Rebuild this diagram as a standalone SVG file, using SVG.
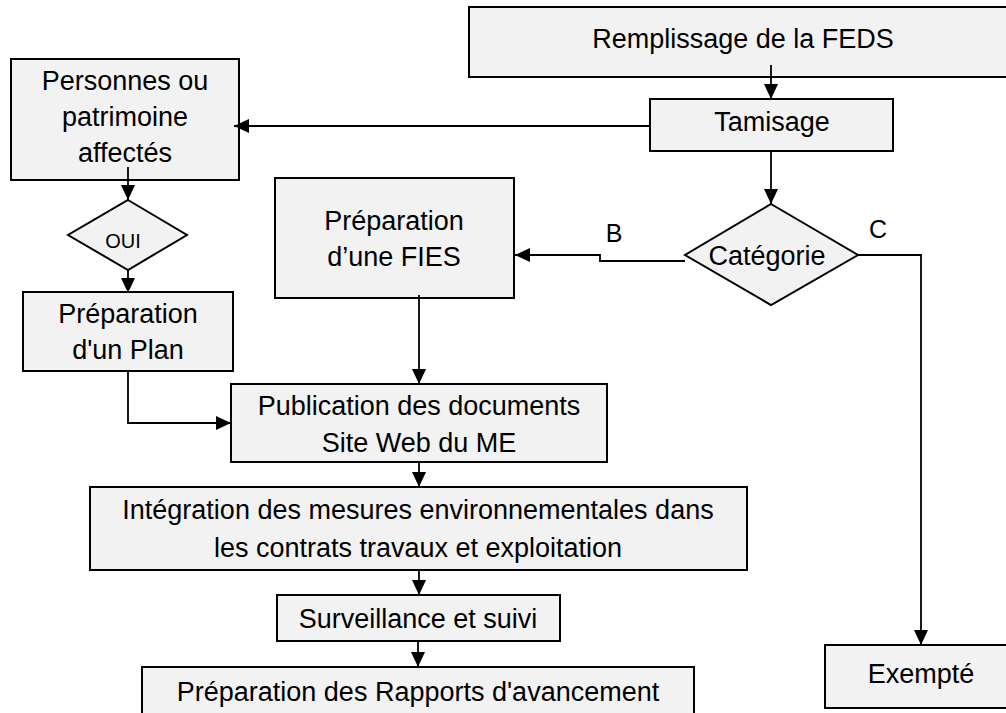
<svg xmlns="http://www.w3.org/2000/svg" width="1006" height="713" viewBox="0 0 1006 713">
<style>
.box{fill:#f2f2f2;stroke:#000;stroke-width:2}
.t{font-family:"Liberation Sans",Arial,sans-serif;font-size:27px;fill:#000;text-anchor:middle}
.s{font-size:20px}
.lbl{font-family:"Liberation Sans",Arial,sans-serif;font-size:25px;fill:#000;text-anchor:middle}
.c{fill:none;stroke:#000;stroke-width:1.8}
</style>
<defs>
<marker id="ah" viewBox="0 0 15 14" refX="15" refY="7" markerWidth="15" markerHeight="14" markerUnits="userSpaceOnUse" orient="auto">
<path d="M0,0 L15,7 L0,14 z" fill="#000"/>
</marker>
</defs>
<rect width="1006" height="713" fill="#fff"/>
<g id="remplissage"><rect class="box" x="469" y="7" width="560" height="70"/><text class="t" x="743" y="48">Remplissage de la FEDS</text></g>
<g id="tamisage"><rect class="box" x="650" y="99" width="243" height="52"/><text class="t" x="772" y="131">Tamisage</text></g>
<g id="personnes"><rect class="box" x="11" y="59" width="228" height="121"/><text class="t" x="125" y="90">Personnes ou</text><text class="t" x="125" y="126">patrimoine</text><text class="t" x="125" y="162">affectés</text></g>
<g id="oui"><polygon class="box" points="128,200 187,235 128,270 68,235"/><text class="t s" x="123" y="248">OUI</text></g>
<g id="fies"><rect class="box" x="275" y="178" width="239" height="120"/><text class="t" x="394" y="230">Préparation</text><text class="t" x="394" y="266">d’une FIES</text></g>
<g id="categorie"><polygon class="box" points="771,204 858,255 771,305 685,255"/><text class="t" x="767" y="265">Catégorie</text></g>
<g id="plan"><rect class="box" x="23" y="292" width="210" height="79"/><text class="t" x="128" y="323">Préparation</text><text class="t" x="128" y="359">d'un Plan</text></g>
<g id="publication"><rect class="box" x="231" y="384" width="376" height="78"/><text class="t" x="419" y="415">Publication des documents</text><text class="t" x="419" y="452">Site Web du ME</text></g>
<g id="integration"><rect class="box" x="90" y="487" width="657" height="83"/><text class="t" x="418" y="519">Intégration des mesures environnementales dans</text><text class="t" x="418" y="557">les contrats travaux et exploitation</text></g>
<g id="surveillance"><rect class="box" x="277" y="595" width="283" height="46"/><text class="t" x="418" y="628">Surveillance et suivi</text></g>
<g id="rapports"><rect class="box" x="142" y="667" width="552" height="60"/><text class="t" x="418" y="701">Préparation des Rapports d'avancement</text></g>
<g id="exempte"><rect class="box" x="825" y="645" width="200" height="63"/><text class="t" x="921" y="683">Exempté</text></g>
<g id="connectors">
<path class="c" d="M771,65 V99" marker-end="url(#ah)"/>
<path class="c" d="M650,126 H234" marker-end="url(#ah)"/>
<path class="c" d="M128,167 V200" marker-end="url(#ah)"/>
<path class="c" d="M128,270 V293" marker-end="url(#ah)"/>
<path class="c" d="M128,371 V423 H231" marker-end="url(#ah)"/>
<path class="c" d="M419,295 V384" marker-end="url(#ah)"/>
<path class="c" d="M419,462 V487" marker-end="url(#ah)"/>
<path class="c" d="M419,570 V595" marker-end="url(#ah)"/>
<path class="c" d="M418,641 V667" marker-end="url(#ah)"/>
<path class="c" d="M771,151 V204" marker-end="url(#ah)"/>
<path class="c" d="M685,261 H600 V255 H515" marker-end="url(#ah)"/>
<path class="c" d="M858,255 H921 V645" marker-end="url(#ah)"/>
<text class="lbl" x="614" y="242">B</text>
<text class="lbl" x="878" y="238">C</text>
</g>
</svg>
